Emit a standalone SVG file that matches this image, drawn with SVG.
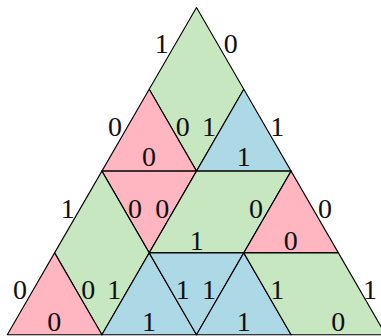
<svg xmlns="http://www.w3.org/2000/svg" width="381" height="336" viewBox="0 0 381 336">
<style>
polygon{stroke:#000;stroke-width:1.1;stroke-linejoin:round}
.g{fill:#c6e7c0}.p{fill:#ffb6c1}.b{fill:#add8e6}
text{font-family:"Liberation Serif","DejaVu Serif",serif;font-size:28px;text-anchor:middle;fill:#111}
</style>
<rect width="381" height="336" fill="#fff"/>
<g id="rhombus-top"><polygon class="g" points="196.5,7.5 149.2,89.3 196.5,171.1 243.8,89.3"/></g>
<g id="tri-r1-left"><polygon class="p" points="149.2,89.3 101.9,171.1 196.5,171.1"/></g>
<g id="tri-r1-right"><polygon class="b" points="243.8,89.3 196.5,171.1 291.1,171.1"/></g>
<g id="tri-r2-down-left"><polygon class="p" points="101.9,171.1 196.5,171.1 149.2,252.9"/></g>
<g id="rhombus-mid"><polygon class="g" points="196.5,171.1 291.1,171.1 243.8,252.9 149.2,252.9"/></g>
<g id="tri-r2-right"><polygon class="p" points="291.1,171.1 243.8,252.9 338.4,252.9"/></g>
<g id="rhombus-left"><polygon class="g" points="101.9,171.1 54.6,252.9 101.9,334.7 149.2,252.9"/></g>
<g id="tri-r3-left"><polygon class="p" points="54.6,252.9 7.3,334.7 101.9,334.7"/></g>
<g id="tri-r3-b1"><polygon class="b" points="149.2,252.9 101.9,334.7 196.5,334.7"/></g>
<g id="tri-r3-b2"><polygon class="b" points="149.2,252.9 243.8,252.9 196.5,334.7"/></g>
<g id="tri-r3-b3"><polygon class="b" points="243.8,252.9 196.5,334.7 291.1,334.7"/></g>
<g id="rhombus-right"><polygon class="g" points="243.8,252.9 338.4,252.9 385.7,334.7 291.1,334.7"/></g>
<g id="connectors"></g>
<g id="labels">
<text x="161.7" y="53.3">1</text>
<text x="230.7" y="53.3">0</text>
<text x="115" y="135.5">0</text>
<text x="182.7" y="135.5">0</text>
<text x="209" y="135.5">1</text>
<text x="277.3" y="135.5">1</text>
<text x="149" y="166">0</text>
<text x="243.7" y="166">1</text>
<text x="67.7" y="217.5">1</text>
<text x="135" y="217.5">0</text>
<text x="162.3" y="217.5">0</text>
<text x="256" y="217.5">0</text>
<text x="325" y="217.5">0</text>
<text x="196.7" y="249.5">1</text>
<text x="290.7" y="249.5">0</text>
<text x="20" y="299">0</text>
<text x="88.3" y="299">0</text>
<text x="114.3" y="299">1</text>
<text x="182.7" y="299">1</text>
<text x="209" y="299">1</text>
<text x="277.3" y="299">1</text>
<text x="370" y="299">1</text>
<text x="54.3" y="331">0</text>
<text x="149" y="331">1</text>
<text x="243.7" y="331">1</text>
<text x="338.3" y="331">0</text>
</g>
</svg>
